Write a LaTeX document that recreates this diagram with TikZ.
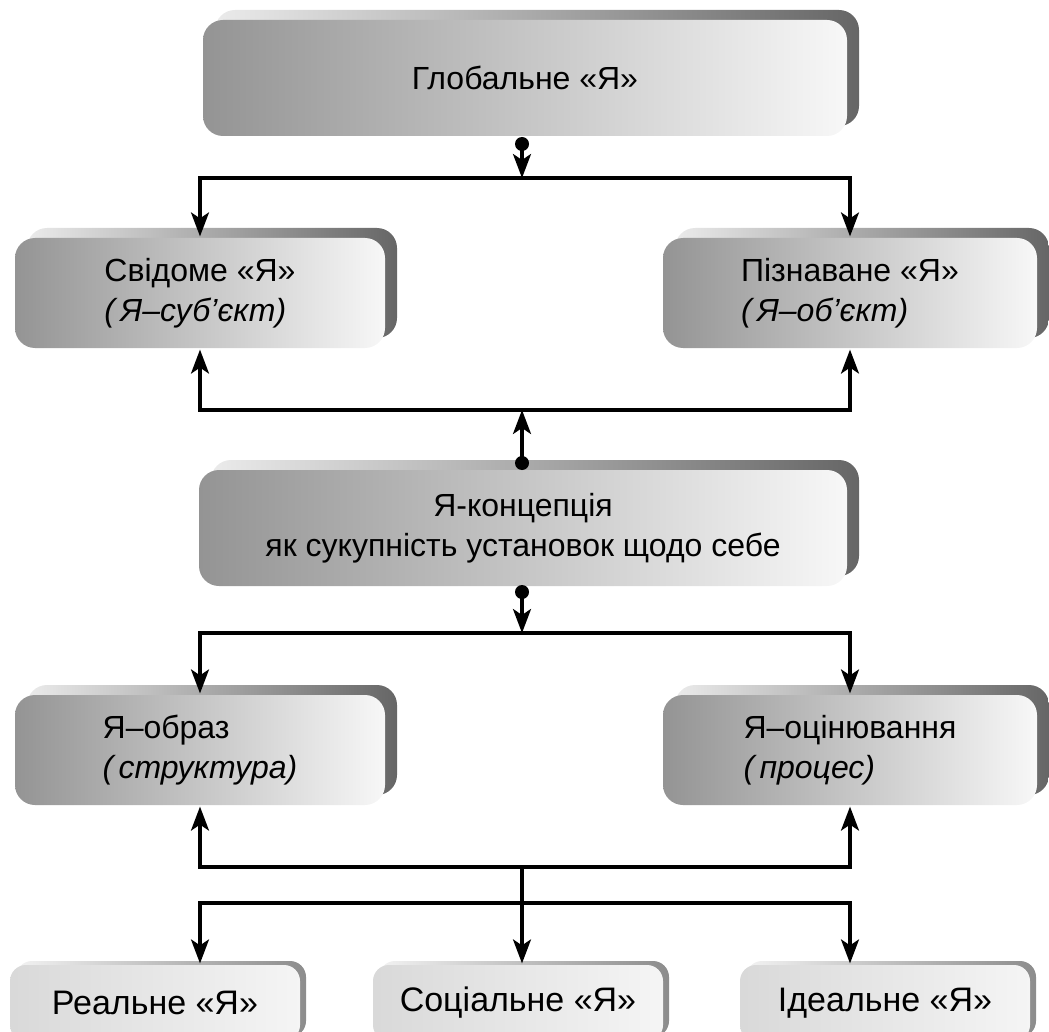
\documentclass[tikz,border=0pt]{standalone}
\usepackage{fontspec}
\setmainfont{Liberation Sans}
\usetikzlibrary{arrows.meta,positioning,calc}

\begin{document}
\begin{tikzpicture}[x=0.5pt,y=-0.5pt,line width=1.6pt,>={Stealth[length=12pt,width=9pt,inset=3pt]},
  every node/.style={font=\fontsize{16}{20}\selectfont,inner sep=0pt},
  bigbox/.style={rounded corners=10pt,left color=black!42,middle color=black!14,right color=black!3,
    preaction={left color=black!8,right color=black!60,transform canvas={xshift=6pt,yshift=5pt}}},
  smallbox/.style={rounded corners=8pt,left color=black!15,right color=black!4,
    minimum width=145pt,minimum height=38pt,font=\fontsize{17}{20}\selectfont,
    preaction={left color=black!5,right color=black!45,transform canvas={xshift=3pt,yshift=2pt}}}]
\useasboundingbox (0,0) rectangle (1049,1032);
\clip (0,0) rectangle (1049,1032);
\node[bigbox,minimum width=322pt,minimum height=58pt] (glob) at (525,78) {Глобальне «Я»};
\node[bigbox,minimum width=185pt,minimum height=55pt,align=left] (sv) at (200,293) {Свідоме «Я»\\{\itshape(\,Я–суб’єкт)}};
\node[bigbox,minimum width=187pt,minimum height=55pt,align=left] (pz) at (850,293) {Пізнаване «Я»\\{\itshape(\,Я–об’єкт)}};
\node[bigbox,minimum width=324pt,minimum height=58pt,align=center] (konc) at (523,528) {Я-концепція\\як сукупність установок щодо себе};
\node[bigbox,minimum width=185pt,minimum height=55pt,align=left] (obr) at (200,750) {Я–образ\\{\itshape(\,структура)}};
\node[bigbox,minimum width=187pt,minimum height=55pt,align=left] (oc) at (850,750) {Я–оцінювання\\{\itshape(\,процес)}};
\node[smallbox] (real) at (155,1003) {Реальне «Я»};
\node[smallbox] (soc) at (518,1003) {Соціальне «Я»};
\node[smallbox] (ideal) at (885,1003) {Ідеальне «Я»};
% junction points
\coordinate (d1) at (522,144);
\coordinate (j1) at (522,178);
\coordinate (d2) at (522,463);
\coordinate (j2) at (522,410);
\coordinate (d3) at (522,592);
\coordinate (j3) at (522,633);
\coordinate (j4) at (522,867);
\coordinate (j5) at (522,903);
\fill (d1) circle (3.5pt);
\fill (d2) circle (3.5pt);
\fill (d3) circle (3.5pt);
\draw[->] (d1) -- (j1);
\draw[->] (j1) -| (sv);
\draw[->] (j1) -| (pz);
\draw[->] (d2) -- (j2);
\draw[<->] (sv) |- (j2) -| (pz);
\draw[->] (d3) -- (j3);
\draw[->] (j3) -| (obr);
\draw[->] (j3) -| (oc);
\draw[<->] (obr) |- (j4) -| (oc);
\draw (j4) -- (j5);
\draw[->] (j5) -| (real.north -| obr.south);
\draw[->] (j5) -- (soc.north -| j5);
\draw[->] (j5) -| (ideal.north -| oc.south);
\end{tikzpicture}
\end{document}
